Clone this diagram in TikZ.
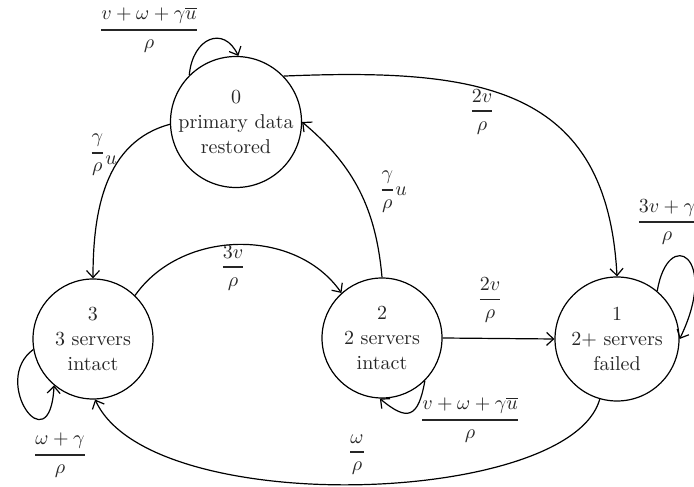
\documentclass[tikz,border=0pt]{standalone}
\usepackage{amsmath}
\usetikzlibrary{arrows.meta}
\newcommand\myfrac[2]{\genfrac{}{}{0.9pt}{0}{#1}{#2}}
\begin{document}
\begin{tikzpicture}[x=0.5pt,y=0.5pt,
  state/.style={circle,draw,line width=0.6pt,minimum size=60pt,inner sep=0pt,align=center,
    font=\fontsize{10}{12.5}\selectfont,text=black!85},
  edge/.style={line width=0.6pt,-{Straight Barb[length=3.5pt,width=6.5pt]}},
  lab/.style={text=black!85,inner sep=0pt}]
\useasboundingbox (0,0) rectangle (694,486);
\node[state] (n0) at (236,364) {0\\primary data\\restored};
\node[state] (n3) at (93,147) {3\\3 servers\\intact};
\node[state] (n2) at (382,148) {2\\2 servers\\intact};
\node[state,minimum size=62pt] (n1) at (617,147) {1\\2+ servers\\failed};
% 0 self loop
\draw[edge] (n0.135) .. controls +(85:38) and +(115:34) .. (n0.88);
\node[lab] (l00) at (149,456) {$\myfrac{v+\omega+\gamma\overline{u}}{\rho}$};
% 0 -> 3
\draw[edge] (n0.182) to[out=195,in=90] (n3.north);
\node[lab] (l03) at (103,331) {$\myfrac{\gamma}{\rho}\raisebox{-3pt}{$u$}$};
% 2 -> 0
\draw[edge] (n2.north) to[out=95,in=-40] (n0.east);
\node[lab] (l20) at (393,294) {$\myfrac{\gamma}{\rho}u$};
% 0 -> 1
\draw[edge] (n0.44) .. controls (480,418) and (607,400) .. (n1.north);
\node[lab] (l01) at (482,374) {$\myfrac{2v}{\rho}$};
% 3 -> 2
\draw[edge] (n3.46) to[out=55,in=125] (n2.132);
\node[lab] (l32) at (233,218) {$\myfrac{3v}{\rho}$};
% 2 -> 1
\draw[edge] (n2.east) -- (n1.west);
\node[lab] (l21) at (490,186) {$\myfrac{2v}{\rho}$};
% 2 self loop
\draw[edge] (n2.-45) .. controls +(-100:38) and +(-40:36) .. (n2.-92);
\node[lab] (l22) at (470,66) {$\myfrac{v+\omega+\gamma\overline{u}}{\rho}$};
% 1 self loop
\draw[edge] (n1.50) .. controls (668,260) and (720,230) .. (n1.east);
\node[lab] (l11) at (667,264) {$\myfrac{3v+\gamma}{\rho}$};
% 3 self loop
\draw[edge] (n3.190) .. controls (-10,105) and (50,20) .. (n3.230);
\node[lab] (l33) at (60,31) {$\myfrac{\omega+\gamma}{\rho}$};
% 1 -> 3
\draw[edge] (n1.254) .. controls (570,-20) and (150,-34) .. (n3.-88);
\node[lab] (l13) at (357,31) {$\myfrac{\omega}{\rho}$};
\end{tikzpicture}
\end{document}
